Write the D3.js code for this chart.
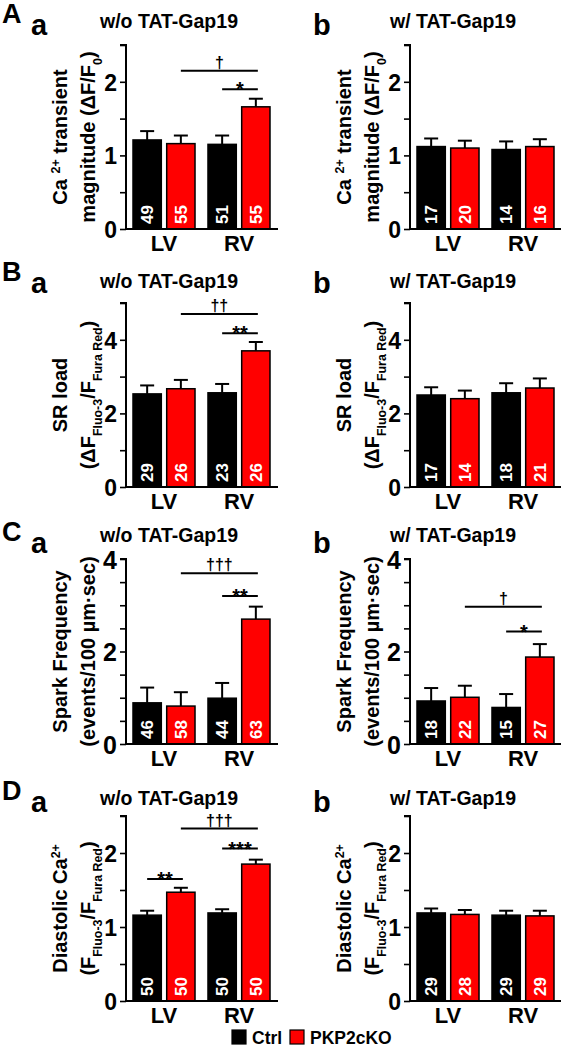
<!DOCTYPE html>
<html><head><meta charset="utf-8">
<script src="https://cdn.jsdelivr.net/npm/d3@7"></script>
<style>
html,body{margin:0;padding:0;background:#fff;}
svg{display:block;font-family:"Liberation Sans",Arial,sans-serif;font-weight:bold;}
</style></head>
<body>
<svg id="chart" width="561" height="1050"></svg>
<script>
// ---------- data ----------
const groups = ["LV", "RV"];
const genotypes = ["Ctrl", "PKP2cKO"];
const genoColors = ["#000000", "#ff0000"];

// order of bars: LV-Ctrl, LV-KO, RV-Ctrl, RV-KO
const caMagWoMean = [1.21, 1.16, 1.15, 1.66];
const caMagWoSem  = [0.12, 0.11, 0.12, 0.11];
const caMagWoN    = [49, 55, 51, 55];
const caMagWMean  = [1.12, 1.10, 1.08, 1.12];
const caMagWSem   = [0.11, 0.10, 0.11, 0.10];
const caMagWN     = [17, 20, 14, 16];

const srWoMean = [2.53, 2.67, 2.56, 3.70];
const srWoSem  = [0.23, 0.24, 0.24, 0.24];
const srWoN    = [29, 26, 23, 26];
const srWMean  = [2.50, 2.40, 2.56, 2.69];
const srWSem   = [0.21, 0.22, 0.26, 0.26];
const srWN     = [17, 14, 18, 21];

const sparkWoMean = [0.89, 0.82, 0.99, 2.70];
const sparkWoSem  = [0.33, 0.30, 0.33, 0.27];
const sparkWoN    = [46, 58, 44, 63];
const sparkWMean  = [0.93, 1.01, 0.79, 1.88];
const sparkWSem   = [0.28, 0.25, 0.29, 0.28];
const sparkWN     = [18, 22, 15, 27];

const diaWoMean = [1.16, 1.47, 1.19, 1.85];
const diaWoSem  = [0.06, 0.06, 0.05, 0.06];
const diaWoN    = [50, 50, 50, 50];
const diaWMean  = [1.19, 1.17, 1.16, 1.15];
const diaWSem   = [0.06, 0.06, 0.06, 0.07];
const diaWN     = [29, 28, 29, 29];

// y-axis domains / ticks
const domA = [0, 2.5], ticksA = [0, 0.5, 1, 1.5, 2, 2.5], labelsA = [0, 1, 2];
const domB = [0, 5],   ticksB = [0, 1, 2, 3, 4, 5],       labelsB = [0, 2, 4];
const domC = [0, 4],   ticksC = [0, 0.5, 1, 1.5, 2, 2.5, 3, 3.5, 4], labelsC = [0, 2, 4];

// significance brackets: [fromBar, toBar, y (data units), symbol]
const sigAa = [[1, 3, 2.15, "†"], [2, 3, 1.90, "*"]];
const sigBa = [[1, 3, 4.70, "††"], [2, 3, 4.18, "**"]];
const sigCa = [[1, 3, 3.69, "†††"], [2, 3, 3.20, "**"]];
const sigCb = [[1, 3, 2.97, "†"], [2, 3, 2.43, "*"]];
const sigDa = [[1, 3, 2.33, "†††"], [2, 3, 2.06, "***"], [0, 1, 1.65, "**"]];

const titles = ["w/o TAT-Gap19", "w/ TAT-Gap19"];

// ---------- drawing ----------
const svg = d3.select("#chart");
const colAxisX = [126, 410];

// y labels as arrays of [text, kind] segments; kind: n normal, sup, sub
const labCa = [[["Ca ", "n"], ["2+", "sup"], [" transient", "n"]],
               [["magnitude (ΔF/F", "n"], ["0", "sub"], [")", "n"]]];
const labSR = [[["SR load", "n"]],
               [["(ΔF", "n"], ["Fluo-3", "sub"], ["/F", "n"], ["Fura Red", "sub"], [")", "n"]]];
const labSp = [[["Spark Frequency", "n"]],
               [["(events/100 µm·sec)", "n"]]];
const labDi = [[["Diastolic Ca", "n"], ["2+", "sup"]],
               [["(F", "n"], ["Fluo-3", "sub"], ["/F", "n"], ["Fura Red", "sub"], [")", "n"]]];

const rows = [
  {letter: "A", top: 0,   titleY: 28,  plotTop: 45,  base: 229,  dom: domA, ticks: ticksA, labels: labelsA, tickFs: 23, ylab: labCa, ylabFs: 20,
   panels: [[caMagWoMean, caMagWoSem, caMagWoN, sigAa], [caMagWMean, caMagWSem, caMagWN, []]]},
  {letter: "B", top: 258, titleY: 288, plotTop: 303, base: 487,  dom: domB, ticks: ticksB, labels: labelsB, tickFs: 23, ylab: labSR, ylabFs: 20,
   panels: [[srWoMean, srWoSem, srWoN, sigBa], [srWMean, srWSem, srWN, []]]},
  {letter: "C", top: 518, titleY: 542, plotTop: 559, base: 744,  dom: domC, ticks: ticksC, labels: labelsC, tickFs: 25, ylab: labSp, ylabFs: 20,
   panels: [[sparkWoMean, sparkWoSem, sparkWoN, sigCa], [sparkWMean, sparkWSem, sparkWN, sigCb]]},
  {letter: "D", top: 777, titleY: 805, plotTop: 816, base: 1001, dom: domA, ticks: ticksA, labels: labelsA, tickFs: 23, ylab: labDi, ylabFs: 20,
   panels: [[diaWoMean, diaWoSem, diaWoN, sigDa], [diaWMean, diaWSem, diaWN, []]]}
];

function addSegs(textSel, segs, fs) {
  segs.forEach(([t, k]) => {
    const ts = textSel.append("tspan").text(t);
    if (k === "sup") ts.attr("baseline-shift", "super").attr("font-size", fs * 0.62);
    if (k === "sub") ts.attr("baseline-shift", "sub").attr("font-size", fs * 0.62);
  });
}

rows.forEach(row => {
  // panel letter
  svg.append("text").attr("x", 2).attr("y", row.top + 23).attr("font-size", 27).text(row.letter);
  row.panels.forEach((p, ci) => {
    const [means, sems, ns, sigs] = p;
    const ax = colAxisX[ci];
    const g = svg.append("g");
    // sub-letter + title
    g.append("text").attr("x", ci === 0 ? 31 : 313).attr("y", row.top + 35).attr("font-size", 29)
      .text(ci === 0 ? "a" : "b");
    g.append("text").attr("x", ax + 43).attr("y", row.titleY).attr("text-anchor", "middle")
      .attr("font-size", 19.5).text(titles[ci]);

    const y = d3.scaleLinear().domain(row.dom).range([row.base, row.plotTop]);
    const xg = d3.scaleBand().domain(groups).range([ax + 7, ax + 144]).paddingInner(0.173).paddingOuter(0);
    const xs = d3.scaleBand().domain(genotypes).range([0, xg.bandwidth()]).paddingInner(0.16).paddingOuter(0);

    const bars = [];
    groups.forEach((gr, gi) => genotypes.forEach((ge, ki) => {
      const i = gi * 2 + ki;
      bars.push({x: xg(gr) + xs(ge), w: xs.bandwidth(), m: means[i], s: sems[i], n: ns[i], c: genoColors[ki]});
    }));

    // error bars (upward only)
    bars.forEach(b => {
      const cx = b.x + b.w / 2;
      g.append("line").attr("x1", cx).attr("x2", cx).attr("y1", y(b.m)).attr("y2", y(b.m + b.s))
        .attr("stroke", "#000").attr("stroke-width", 2);
      g.append("line").attr("x1", cx - 7).attr("x2", cx + 7).attr("y1", y(b.m + b.s)).attr("y2", y(b.m + b.s))
        .attr("stroke", "#000").attr("stroke-width", 2);
    });
    // bars
    g.selectAll("rect.bar").data(bars).join("rect").attr("class", "bar")
      .attr("x", d => d.x).attr("width", d => d.w)
      .attr("y", d => y(d.m)).attr("height", d => y(0) - y(d.m))
      .attr("fill", d => d.c).attr("stroke", "#000").attr("stroke-width", 1.5);
    // n labels
    bars.forEach(b => {
      const cx = b.x + b.w / 2 + 6;
      g.append("text").attr("transform", `translate(${cx},${y(0) - 5}) rotate(-90)`)
        .attr("fill", "#fff").attr("font-size", 17).text(b.n);
    });

    // y axis
    const yAxis = d3.axisLeft(y).tickValues(row.ticks).tickSize(6).tickPadding(3)
      .tickFormat(d => row.labels.includes(d) ? d3.format("d")(d) : "");
    const ya = g.append("g").attr("transform", `translate(${ax},0)`).call(yAxis);
    ya.select(".domain").attr("stroke-width", 2).attr("d", `M-6,${row.plotTop}H0V${row.base}`);
    ya.selectAll(".tick line").attr("stroke-width", 1.6);
    ya.selectAll(".tick text").attr("font-size", row.tickFs).attr("font-family", "Liberation Sans")
      .attr("font-weight", "bold").attr("fill", "#000").attr("dy", "0.36em");
    // x axis
    const xAxis = d3.axisBottom(xg).tickSize(0).tickPadding(6);
    const xa = g.append("g").attr("transform", `translate(0,${row.base})`).call(xAxis);
    xa.select(".domain").attr("stroke-width", 2).attr("d", `M${ax},0H${ax + 152}`);
    xa.selectAll(".tick text").attr("font-size", 22).attr("font-family", "Liberation Sans")
      .attr("font-weight", "bold").attr("fill", "#000").attr("dy", "0.71em");

    // y label
    const cy = (row.plotTop + row.base) / 2;
    row.ylab.forEach((segs, li) => {
      const lx = ax - (li === 0 ? 59 : 31);
      const t = g.append("text").attr("transform", `translate(${lx},${cy}) rotate(-90)`)
        .attr("text-anchor", "middle").attr("font-size", row.ylabFs);
      addSegs(t, segs, row.ylabFs);
    });

    // significance
    sigs.forEach(([a, b2, yv, sym]) => {
      const isStar = sym.startsWith("*");
      const x1 = bars[a].x + bars[a].w / 2, x2 = bars[b2].x + bars[b2].w / 2 + 2;
      g.append("line").attr("x1", x1).attr("x2", x2).attr("y1", y(yv)).attr("y2", y(yv))
        .attr("stroke", "#000").attr("stroke-width", 2);
      g.append("text").attr("x", (x1 + x2) / 2).attr("y", y(yv) - 3 + (isStar ? 10 : 0))
        .attr("text-anchor", "middle").attr("font-size", isStar ? 20 : 16).text(sym);
    });
  });
});

// legend
const leg = svg.append("g");
const legItems = [{x: 232, t: genotypes[0], c: genoColors[0]}, {x: 290, t: genotypes[1], c: genoColors[1]}];
legItems.forEach(d => {
  leg.append("rect").attr("x", d.x).attr("y", 1030).attr("width", 14).attr("height", 14)
    .attr("fill", d.c).attr("stroke", "#000").attr("stroke-width", 1.2);
  leg.append("text").attr("x", d.x + 20).attr("y", 1044).attr("font-size", 17.5).text(d.t);
});
</script>
</body></html>
